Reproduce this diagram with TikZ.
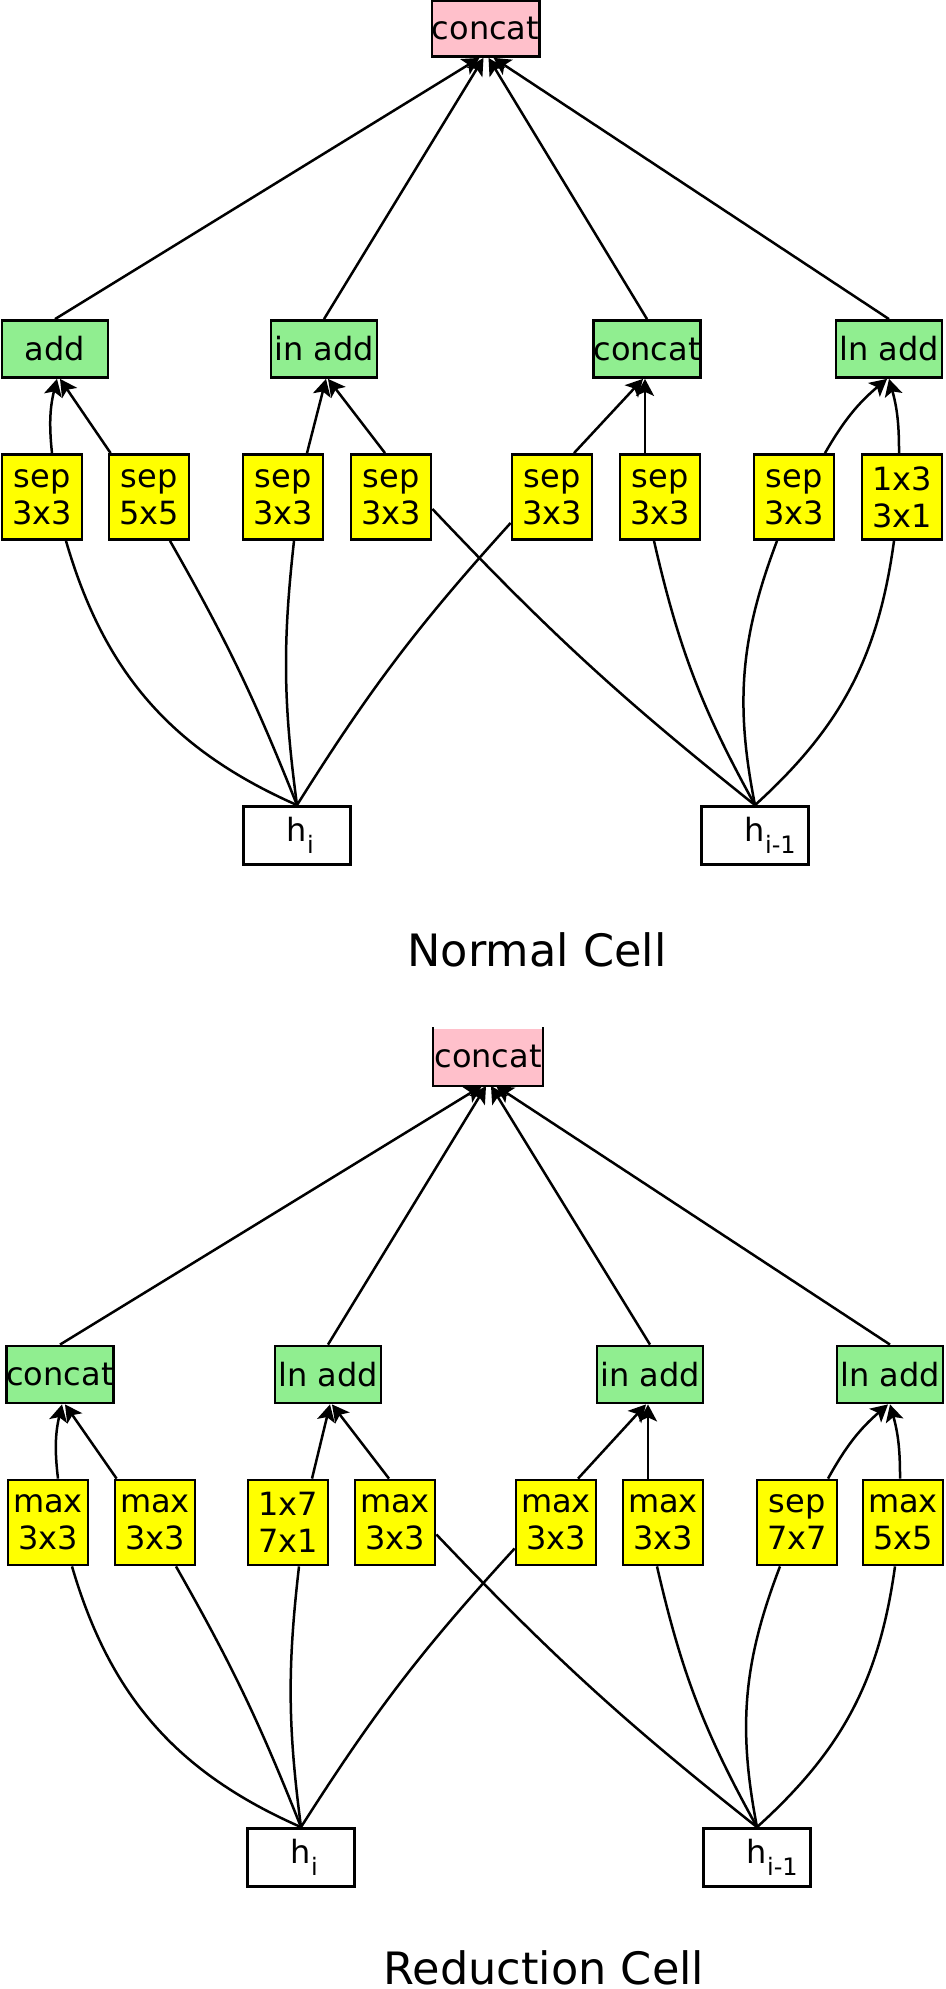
\documentclass[tikz,border=0pt]{standalone}
\usepackage{fontspec}
\setmainfont{DejaVu Sans}
\usetikzlibrary{arrows.meta}

\definecolor{outpink}{RGB}{255,192,203}
\definecolor{combgreen}{RGB}{144,238,144}
\definecolor{opyellow}{RGB}{255,255,0}

\tikzset{
  box/.style={draw=black, line width=1.4pt, inner sep=0pt, align=center,
    font=\fontsize{16}{18.5}\selectfont},
  outbox/.style={box, fill=outpink, minimum width=53pt, minimum height=28pt},
  combbox/.style={box, fill=combgreen, minimum width=53pt, minimum height=28.5pt},
  opbox/.style={box, fill=opyellow, minimum width=40pt, minimum height=42.5pt},
  inbox/.style={box, fill=white, minimum width=53.5pt, minimum height=29pt},
  link/.style={line width=1.25pt},
  arrowlink/.style={link, -{Stealth[length=8.5pt,width=9pt,inset=2pt]}},
  title/.style={anchor=base, font=\fontsize{22.3}{26}\selectfont}
}

% h with a hanging subscript
\newcommand{\hsub}[1]{h\rlap{\raisebox{-6pt}{\fontsize{12}{12}\selectfont #1}}}

\begin{document}
\begin{tikzpicture}[x=0.5pt, y=-0.5pt]
    \useasboundingbox (0,0) rectangle (946,1989);

    % ---------- Normal cell ----------
    \node[outbox] (n-out) at (485.5,28.5) {concat};

    % combine nodes
    \node[combbox] (n-c1) at (55,349) {add};
    \node[combbox] (n-c2) at (324,349) {in add};
    \node[combbox] (n-c3) at (647,349) {concat};
    \node[combbox] (n-c4) at (889,349) {ln add};

    % operations
    \node[opbox] (n-op1) at (42,497) {sep\\3x3};
    \node[opbox] (n-op2) at (149,497) {sep\\5x5};
    \node[opbox] (n-op3) at (283,497) {sep\\3x3};
    \node[opbox] (n-op4) at (391,497) {sep\\3x3};
    \node[opbox] (n-op5) at (552,497) {sep\\3x3};
    \node[opbox] (n-op6) at (660,497) {sep\\3x3};
    \node[opbox] (n-op7) at (794,497) {sep\\3x3};
    \node[opbox] (n-op8) at (902,497) {1x3\\3x1};

    % inputs
    \node[inbox] (n-hi) at (297,835.5) {\hsub{i}};
    \node[inbox] (n-hp) at (755,835.5) {\hsub{i-1}};

    \node[title] (n-title) at (537,966) {Normal Cell};

    % ---------- Reduction cell ----------
    \node[outbox, draw=none] (r-out) at (488,1056.5) {concat};
    \draw[line width=1.4pt] (r-out.north west) -- (r-out.south west)
        -- (r-out.south east) -- (r-out.north east);

    % combine nodes
    \node[combbox] (r-c1) at (60,1374.5) {concat};
    \node[combbox] (r-c2) at (328,1374.5) {ln add};
    \node[combbox] (r-c3) at (650,1374.5) {in add};
    \node[combbox] (r-c4) at (890,1374.5) {ln add};

    % operations
    \node[opbox] (r-op1) at (48,1522.5) {max\\3x3};
    \node[opbox] (r-op2) at (155,1522.5) {max\\3x3};
    \node[opbox] (r-op3) at (288,1522.5) {1x7\\7x1};
    \node[opbox] (r-op4) at (395,1522.5) {max\\3x3};
    \node[opbox] (r-op5) at (556,1522.5) {max\\3x3};
    \node[opbox] (r-op6) at (663,1522.5) {max\\3x3};
    \node[opbox] (r-op7) at (797,1522.5) {sep\\7x7};
    \node[opbox] (r-op8) at (903,1522.5) {max\\5x5};

    % inputs
    \node[inbox] (r-hi) at (301,1857.5) {\hsub{i}};
    \node[inbox] (r-hp) at (757,1857.5) {\hsub{i-1}};

    \node[title] (r-title) at (544,1984) {Reduction Cell};

    % ---------- Connectors (same in both cells) ----------
    \foreach \c in {n,r} {
        % combine nodes into the output
        \draw[arrowlink] (\c-c1.north) -- ([xshift=-3pt]\c-out.south);
        \draw[arrowlink] (\c-c2.north) -- ([xshift=-1pt]\c-out.south);
        \draw[arrowlink] (\c-c3.north) -- ([xshift=1.5pt]\c-out.south);
        \draw[arrowlink] (\c-c4.north) -- ([xshift=4pt]\c-out.south);

        % operations into combine nodes
        \draw[arrowlink] ([xshift=5pt]\c-op1.north) to[bend left=10] ([xshift=1pt]\c-c1.south);
        \draw[arrowlink] ([xshift=1.5pt]\c-op2.north west) -- ([xshift=2.5pt]\c-c1.south);
        \draw[arrowlink] ([xshift=12pt]\c-op3.north) -- ([xshift=1pt]\c-c2.south);
        \draw[arrowlink] ([xshift=-3pt]\c-op4.north) -- ([xshift=2pt]\c-c2.south);
        \draw[arrowlink] ([xshift=11pt]\c-op5.north) -- ([xshift=-2pt]\c-c3.south);
        \draw[arrowlink] ([xshift=-7.5pt]\c-op6.north) -- ([xshift=-1pt]\c-c3.south);
        \draw[arrowlink] ([xshift=15.5pt]\c-op7.north) to[bend left=10] ([xshift=-1pt]\c-c4.south);
        \draw[arrowlink] ([xshift=-1.5pt]\c-op8.north) to[bend right=8] (\c-c4.south);

        % h_i into operations
        \draw[link] (\c-hi.north) to[bend left=25] ([xshift=12pt]\c-op1.south);
        \draw[link] (\c-hi.north) to[bend right=4] ([xshift=10.5pt]\c-op2.south);
        \draw[link] (\c-hi.north) to[bend left=7] ([xshift=5.5pt]\c-op3.south);
        \draw[link] (\c-hi.north) to[bend left=5] ([yshift=-13pt]\c-op5.west);

        % h_{i-1} into operations
        \draw[link] (\c-hp.north) to[bend left=4] ([yshift=-6pt]\c-op4.east);
        \draw[link] (\c-hp.north) to[bend left=8] ([xshift=-3pt]\c-op6.south);
        \draw[link] (\c-hp.north) to[bend left=16] ([xshift=-8.5pt]\c-op7.south);
        \draw[link] (\c-hp.north) to[bend right=20] ([xshift=-4pt]\c-op8.south);
    }
\end{tikzpicture}
\end{document}
